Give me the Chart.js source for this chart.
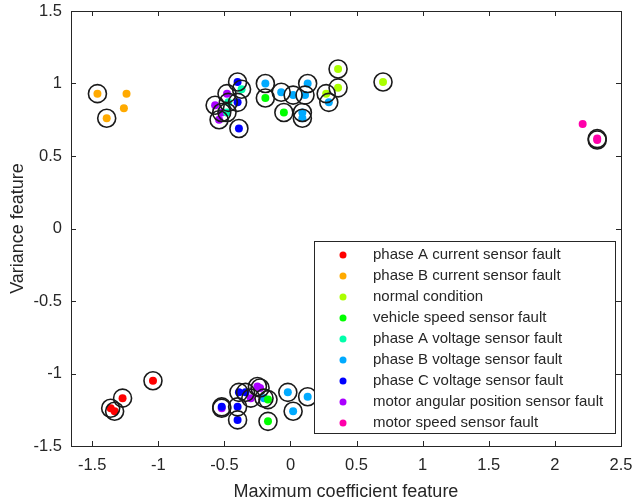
<!DOCTYPE html>
<html>
<head>
<meta charset="utf-8">
<script src="https://cdn.jsdelivr.net/npm/chart.js@4.4.1/dist/chart.umd.min.js"></script>
<style>
  body { margin: 0; background: #fff; }
  canvas { display: block; }
</style>
</head>
<body>
<canvas id="svmChart" width="632" height="504"></canvas>
<script>
// class names (legend order)
const classNames = [
    'phase A current sensor fault',
    'phase B current sensor fault',
    'normal condition',
    'vehicle speed sensor fault',
    'phase A voltage sensor fault',
    'phase B voltage sensor fault',
    'phase C voltage sensor fault',
    'motor angular position sensor fault',
    'motor speed sensor fault'
];
const classColors = ['#ff0000', '#ffaa00', '#aaff00', '#00ff00', '#00ffaa', '#00aaff', '#0000ff', '#aa00ff', '#ff00aa'];

// per class: x (max coefficient), y (variance), sv = circled support vector
const phaseACurX = [-1.04, -1.27, -1.36, -1.33];
const phaseACurY = [-1.05, -1.17, -1.24, -1.26];
const phaseACurSv = [1, 1, 1, 1];

const phaseBCurX = [-1.46, -1.39, -1.24, -1.26];
const phaseBCurY = [0.93, 0.76, 0.93, 0.83];
const phaseBCurSv = [1, 1, 0, 0];

const normalX = [0.36, 0.36, 0.27, 0.70];
const normalY = [1.10, 0.97, 0.93, 1.01];
const normalSv = [1, 1, 1, 1];

const vehSpeedX = [-0.19, -0.05, -0.17, -0.17];
const vehSpeedY = [0.90, 0.80, -1.33, -1.18];
const vehSpeedSv = [1, 1, 1, 1];

const phaseAVolX = [-0.37, -0.47, -0.48];
const phaseAVolY = [0.96, 0.87, 0.80];
const phaseAVolSv = [1, 1, 1];

const phaseBVolX = [-0.19, -0.07, 0.02, 0.13, 0.11, 0.09, 0.09, 0.29, -0.02, 0.13, 0.02, -0.20];
const phaseBVolY = [1.00, 0.94, 0.92, 1.00, 0.92, 0.80, 0.76, 0.87, -1.13, -1.16, -1.26, -1.17];
const phaseBVolSv = [1, 1, 1, 1, 1, 1, 1, 1, 1, 1, 1, 1];

const phaseCVolX = [-0.40, -0.40, -0.39, -0.39, -0.34, -0.52, -0.40, -0.40];
const phaseCVolY = [1.01, 0.87, 0.69, -1.13, -1.13, -1.23, -1.23, -1.32];
const phaseCVolSv = [1, 1, 1, 1, 1, 1, 1, 1];

const angPosX = [-0.48, -0.57, -0.54, -0.52, -0.52, -0.25, -0.30, -0.23];
const angPosY = [0.93, 0.85, 0.75, 0.80, -1.24, -1.09, -1.17, -1.10];
const angPosSv = [1, 1, 1, 1, 1, 1, 1, 1];

const motSpeedX = [2.21, 2.32, 2.32];
const motSpeedY = [0.72, 0.62, 0.61];
const motSpeedSv = [0, 1, 1];

const xTicks = [-1.5, -1, -0.5, 0, 0.5, 1, 1.5, 2, 2.5];
const yTicks = [-1.5, -1, -0.5, 0, 0.5, 1, 1.5];

const classX = [phaseACurX, phaseBCurX, normalX, vehSpeedX, phaseAVolX, phaseBVolX, phaseCVolX, angPosX, motSpeedX];
const classY = [phaseACurY, phaseBCurY, normalY, vehSpeedY, phaseAVolY, phaseBVolY, phaseCVolY, angPosY, motSpeedY];
const classSv = [phaseACurSv, phaseBCurSv, normalSv, vehSpeedSv, phaseAVolSv, phaseBVolSv, phaseCVolSv, angPosSv, motSpeedSv];

const FONT = '"Liberation Sans", Arial, Helvetica, sans-serif';
const AXIS_COLOR = '#262626';

const datasets = classNames.map((name, i) => ({
    label: name,
    data: classX[i].map((x, j) => ({ x: x, y: classY[i][j] })),
    backgroundColor: classColors[i],
    borderWidth: 0,
    pointRadius: 4,
    order: 1
}));

// circles round support vectors
const svPoints = [];
classX.forEach((xs, i) => xs.forEach((x, j) => {
    if (classSv[i][j]) svPoints.push({ x: x, y: classY[i][j] });
}));
datasets.push({
    label: 'support vectors',
    data: svPoints,
    backgroundColor: 'rgba(0,0,0,0)',
    borderColor: '#1a1a1a',
    borderWidth: 1.6,
    pointRadius: 9,
    order: 0
});

// box + inward ticks, like matlab
const boxPlugin = {
    id: 'box',
    afterDraw(chart) {
        const { ctx, chartArea: a, scales } = chart;
        ctx.save();
        ctx.strokeStyle = AXIS_COLOR;
        ctx.lineWidth = 1;
        ctx.strokeRect(a.left + 0.5, a.top + 0.5, a.right - a.left, a.bottom - a.top);
        const len = 5;
        ctx.beginPath();
        xTicks.forEach(v => {
            const px = Math.round(scales.x.getPixelForValue(v)) + 0.5;
            ctx.moveTo(px, a.bottom); ctx.lineTo(px, a.bottom - len);
            ctx.moveTo(px, a.top); ctx.lineTo(px, a.top + len);
        });
        yTicks.forEach(v => {
            const py = Math.round(scales.y.getPixelForValue(v)) + 0.5;
            ctx.moveTo(a.left, py); ctx.lineTo(a.left + len, py);
            ctx.moveTo(a.right, py); ctx.lineTo(a.right - len, py);
        });
        ctx.stroke();
        ctx.restore();
    }
};

// legend box inside the axes (south east)
const legendPlugin = {
    id: 'insideLegend',
    afterDraw(chart) {
        const ctx = chart.ctx;
        const left = 314, top = 241, right = 615, bottom = 433;
        ctx.save();
        ctx.fillStyle = '#fff';
        ctx.fillRect(left, top, right - left, bottom - top);
        ctx.strokeStyle = AXIS_COLOR;
        ctx.lineWidth = 1;
        ctx.strokeRect(left + 0.5, top + 0.5, right - left, bottom - top);
        ctx.font = '15px ' + FONT;
        ctx.textBaseline = 'middle';
        classNames.forEach((name, i) => {
            const y = 255 + i * 21;
            ctx.fillStyle = classColors[i];
            ctx.beginPath();
            ctx.arc(343, y, 3.5, 0, Math.PI * 2);
            ctx.fill();
            ctx.fillStyle = AXIS_COLOR;
            ctx.fillText(name, 373, y);
        });
        ctx.restore();
    }
};

new Chart(document.getElementById('svmChart'), {
    type: 'scatter',
    data: { datasets: datasets },
    plugins: [boxPlugin, legendPlugin],
    options: {
        responsive: false,
        animation: false,
        events: [],
        layout: { padding: { left: 0, top: 11, right: 11, bottom: 0 } },
        plugins: { legend: { display: false }, tooltip: { enabled: false } },
        scales: {
            x: {
                type: 'linear',
                min: -1.66,
                max: 2.5,
                afterBuildTicks: s => { s.ticks = xTicks.map(v => ({ value: v })); },
                afterFit: s => { s.height = 58; s.paddingLeft = 0; s.paddingRight = 0; },
                grid: { display: false, drawTicks: false },
                border: { display: false },
                ticks: {
                    color: AXIS_COLOR,
                    font: { family: FONT, size: 16.5 },
                    padding: 10,
                    maxRotation: 0,
                    callback: v => String(v)
                },
                title: {
                    display: true,
                    text: 'Maximum coefficient feature',
                    color: AXIS_COLOR,
                    font: { family: FONT, size: 18 },
                    padding: { top: 0, bottom: 1 }
                }
            },
            y: {
                type: 'linear',
                min: -1.5,
                max: 1.5,
                afterBuildTicks: s => { s.ticks = yTicks.map(v => ({ value: v })); },
                afterFit: s => { s.width = 71; s.paddingTop = 0; s.paddingBottom = 0; },
                grid: { display: false, drawTicks: false },
                border: { display: false },
                ticks: {
                    color: AXIS_COLOR,
                    font: { family: FONT, size: 16.5 },
                    padding: 9,
                    callback: v => String(v)
                },
                title: {
                    display: true,
                    text: 'Variance feature',
                    color: AXIS_COLOR,
                    font: { family: FONT, size: 18 },
                    padding: { top: 7, bottom: 0 }
                }
            }
        }
    }
});
</script>
</body>
</html>
